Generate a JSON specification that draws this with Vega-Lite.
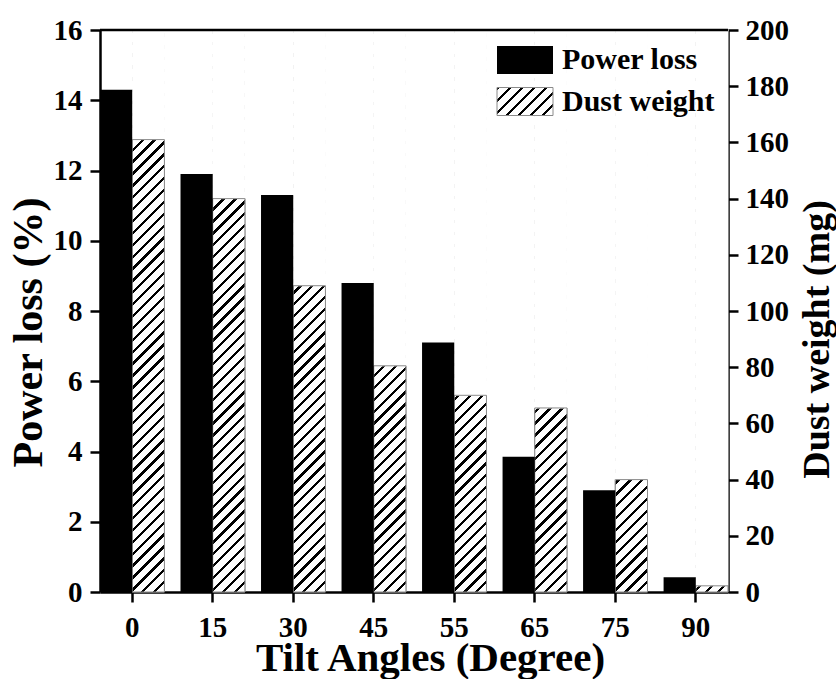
{
  "$schema": "https://vega.github.io/schema/vega-lite/v6.json",
  "width": 628,
  "height": 562,
  "autosize": "none",
  "padding": {"left": 100, "top": 30, "right": 108, "bottom": 87},
  "background": "white",
  "data": {
    "values": [
      {"angle": 0, "series": "Power loss", "value": 14.3},
      {"angle": 0, "series": "Dust weight", "value": 161},
      {"angle": 15, "series": "Power loss", "value": 11.9},
      {"angle": 15, "series": "Dust weight", "value": 140},
      {"angle": 30, "series": "Power loss", "value": 11.3},
      {"angle": 30, "series": "Dust weight", "value": 109},
      {"angle": 45, "series": "Power loss", "value": 8.8},
      {"angle": 45, "series": "Dust weight", "value": 80.5},
      {"angle": 55, "series": "Power loss", "value": 7.1},
      {"angle": 55, "series": "Dust weight", "value": 70},
      {"angle": 65, "series": "Power loss", "value": 3.85},
      {"angle": 65, "series": "Dust weight", "value": 65.5},
      {"angle": 75, "series": "Power loss", "value": 2.9},
      {"angle": 75, "series": "Dust weight", "value": 40},
      {"angle": 90, "series": "Power loss", "value": 0.42},
      {"angle": 90, "series": "Dust weight", "value": 2.2}
    ]
  },
  "layer": [
    {
      "transform": [{"filter": "datum.series === 'Dust weight'"}],
      "layer": [
        {
          "mark": {
            "type": "bar",
            "strokeWidth": 1,
            "fill": {
              "gradient": "linear", "x1": 0, "y1": 0, "x2": 1.2, "y2": 0.6,
              "stops": [
                {"offset":0,"color":"#000"},{"offset":0.04,"color":"#000"},{"offset":0.04,"color":"#fff"},{"offset":0.142857,"color":"#fff"},
                {"offset":0.142857,"color":"#000"},{"offset":0.182857,"color":"#000"},{"offset":0.182857,"color":"#fff"},{"offset":0.285714,"color":"#fff"},
                {"offset":0.285714,"color":"#000"},{"offset":0.325714,"color":"#000"},{"offset":0.325714,"color":"#fff"},{"offset":0.428571,"color":"#fff"},
                {"offset":0.428571,"color":"#000"},{"offset":0.468571,"color":"#000"},{"offset":0.468571,"color":"#fff"},{"offset":0.571429,"color":"#fff"},
                {"offset":0.571429,"color":"#000"},{"offset":0.611429,"color":"#000"},{"offset":0.611429,"color":"#fff"},{"offset":0.714286,"color":"#fff"},
                {"offset":0.714286,"color":"#000"},{"offset":0.754286,"color":"#000"},{"offset":0.754286,"color":"#fff"},{"offset":0.857143,"color":"#fff"},
                {"offset":0.857143,"color":"#000"},{"offset":0.897143,"color":"#000"},{"offset":0.897143,"color":"#fff"},{"offset":1,"color":"#fff"}
              ]
            }
          },
          "encoding": {
            "x": {"field": "angle", "type": "ordinal", "scale": {"paddingInner": 0.2, "paddingOuter": 0}, "title": "Tilt Angles (Degree)"},
            "xOffset": {"field": "series", "type": "nominal", "scale": {"domain": ["Power loss", "Dust weight"]}},
            "y": {"field": "value", "type": "quantitative", "scale": {"domain": [0, 200]}, "axis": {"orient": "right", "values": [0, 20, 40, 60, 80, 100, 120, 140, 160, 180, 200]}, "title": "Dust weight (mg)"},
            "stroke": {
              "field": "series", "type": "nominal",
              "scale": {"domain": ["Dust weight"], "range": ["#8a8a8a"]},
              "legend": {"title": null, "orient": "none", "legendX": 410, "legendY": 56.5}
            }
          }
        },
        {
          "mark": {
            "type": "bar",
            "fill": {
              "gradient": "linear",
              "x1": 0, "y1": 0, "x2": 0.06038, "y2": 1.05384,
              "stops": [
                {"offset":0,"color":"#000"},{"offset":0.0056,"color":"#000"},{"offset":0.0056,"color":"#fff"},{"offset":0.02,"color":"#fff"},
                {"offset":0.02,"color":"#000"},{"offset":0.0256,"color":"#000"},{"offset":0.0256,"color":"#fff"},{"offset":0.04,"color":"#fff"},
                {"offset":0.04,"color":"#000"},{"offset":0.0456,"color":"#000"},{"offset":0.0456,"color":"#fff"},{"offset":0.06,"color":"#fff"},
                {"offset":0.06,"color":"#000"},{"offset":0.0656,"color":"#000"},{"offset":0.0656,"color":"#fff"},{"offset":0.08,"color":"#fff"},
                {"offset":0.08,"color":"#000"},{"offset":0.0856,"color":"#000"},{"offset":0.0856,"color":"#fff"},{"offset":0.1,"color":"#fff"},
                {"offset":0.1,"color":"#000"},{"offset":0.1056,"color":"#000"},{"offset":0.1056,"color":"#fff"},{"offset":0.12,"color":"#fff"},
                {"offset":0.12,"color":"#000"},{"offset":0.1256,"color":"#000"},{"offset":0.1256,"color":"#fff"},{"offset":0.14,"color":"#fff"},
                {"offset":0.14,"color":"#000"},{"offset":0.1456,"color":"#000"},{"offset":0.1456,"color":"#fff"},{"offset":0.16,"color":"#fff"},
                {"offset":0.16,"color":"#000"},{"offset":0.1656,"color":"#000"},{"offset":0.1656,"color":"#fff"},{"offset":0.18,"color":"#fff"},
                {"offset":0.18,"color":"#000"},{"offset":0.1856,"color":"#000"},{"offset":0.1856,"color":"#fff"},{"offset":0.2,"color":"#fff"},
                {"offset":0.2,"color":"#000"},{"offset":0.2056,"color":"#000"},{"offset":0.2056,"color":"#fff"},{"offset":0.22,"color":"#fff"},
                {"offset":0.22,"color":"#000"},{"offset":0.2256,"color":"#000"},{"offset":0.2256,"color":"#fff"},{"offset":0.24,"color":"#fff"},
                {"offset":0.24,"color":"#000"},{"offset":0.2456,"color":"#000"},{"offset":0.2456,"color":"#fff"},{"offset":0.26,"color":"#fff"},
                {"offset":0.26,"color":"#000"},{"offset":0.2656,"color":"#000"},{"offset":0.2656,"color":"#fff"},{"offset":0.28,"color":"#fff"},
                {"offset":0.28,"color":"#000"},{"offset":0.2856,"color":"#000"},{"offset":0.2856,"color":"#fff"},{"offset":0.3,"color":"#fff"},
                {"offset":0.3,"color":"#000"},{"offset":0.3056,"color":"#000"},{"offset":0.3056,"color":"#fff"},{"offset":0.32,"color":"#fff"},
                {"offset":0.32,"color":"#000"},{"offset":0.3256,"color":"#000"},{"offset":0.3256,"color":"#fff"},{"offset":0.34,"color":"#fff"},
                {"offset":0.34,"color":"#000"},{"offset":0.3456,"color":"#000"},{"offset":0.3456,"color":"#fff"},{"offset":0.36,"color":"#fff"},
                {"offset":0.36,"color":"#000"},{"offset":0.3656,"color":"#000"},{"offset":0.3656,"color":"#fff"},{"offset":0.38,"color":"#fff"},
                {"offset":0.38,"color":"#000"},{"offset":0.3856,"color":"#000"},{"offset":0.3856,"color":"#fff"},{"offset":0.4,"color":"#fff"},
                {"offset":0.4,"color":"#000"},{"offset":0.4056,"color":"#000"},{"offset":0.4056,"color":"#fff"},{"offset":0.42,"color":"#fff"},
                {"offset":0.42,"color":"#000"},{"offset":0.4256,"color":"#000"},{"offset":0.4256,"color":"#fff"},{"offset":0.44,"color":"#fff"},
                {"offset":0.44,"color":"#000"},{"offset":0.4456,"color":"#000"},{"offset":0.4456,"color":"#fff"},{"offset":0.46,"color":"#fff"},
                {"offset":0.46,"color":"#000"},{"offset":0.4656,"color":"#000"},{"offset":0.4656,"color":"#fff"},{"offset":0.48,"color":"#fff"},
                {"offset":0.48,"color":"#000"},{"offset":0.4856,"color":"#000"},{"offset":0.4856,"color":"#fff"},{"offset":0.5,"color":"#fff"},
                {"offset":0.5,"color":"#000"},{"offset":0.5056,"color":"#000"},{"offset":0.5056,"color":"#fff"},{"offset":0.52,"color":"#fff"},
                {"offset":0.52,"color":"#000"},{"offset":0.5256,"color":"#000"},{"offset":0.5256,"color":"#fff"},{"offset":0.54,"color":"#fff"},
                {"offset":0.54,"color":"#000"},{"offset":0.5456,"color":"#000"},{"offset":0.5456,"color":"#fff"},{"offset":0.56,"color":"#fff"},
                {"offset":0.56,"color":"#000"},{"offset":0.5656,"color":"#000"},{"offset":0.5656,"color":"#fff"},{"offset":0.58,"color":"#fff"},
                {"offset":0.58,"color":"#000"},{"offset":0.5856,"color":"#000"},{"offset":0.5856,"color":"#fff"},{"offset":0.6,"color":"#fff"},
                {"offset":0.6,"color":"#000"},{"offset":0.6056,"color":"#000"},{"offset":0.6056,"color":"#fff"},{"offset":0.62,"color":"#fff"},
                {"offset":0.62,"color":"#000"},{"offset":0.6256,"color":"#000"},{"offset":0.6256,"color":"#fff"},{"offset":0.64,"color":"#fff"},
                {"offset":0.64,"color":"#000"},{"offset":0.6456,"color":"#000"},{"offset":0.6456,"color":"#fff"},{"offset":0.66,"color":"#fff"},
                {"offset":0.66,"color":"#000"},{"offset":0.6656,"color":"#000"},{"offset":0.6656,"color":"#fff"},{"offset":0.68,"color":"#fff"},
                {"offset":0.68,"color":"#000"},{"offset":0.6856,"color":"#000"},{"offset":0.6856,"color":"#fff"},{"offset":0.7,"color":"#fff"},
                {"offset":0.7,"color":"#000"},{"offset":0.7056,"color":"#000"},{"offset":0.7056,"color":"#fff"},{"offset":0.72,"color":"#fff"},
                {"offset":0.72,"color":"#000"},{"offset":0.7256,"color":"#000"},{"offset":0.7256,"color":"#fff"},{"offset":0.74,"color":"#fff"},
                {"offset":0.74,"color":"#000"},{"offset":0.7456,"color":"#000"},{"offset":0.7456,"color":"#fff"},{"offset":0.76,"color":"#fff"},
                {"offset":0.76,"color":"#000"},{"offset":0.7656,"color":"#000"},{"offset":0.7656,"color":"#fff"},{"offset":0.78,"color":"#fff"},
                {"offset":0.78,"color":"#000"},{"offset":0.7856,"color":"#000"},{"offset":0.7856,"color":"#fff"},{"offset":0.8,"color":"#fff"},
                {"offset":0.8,"color":"#000"},{"offset":0.8056,"color":"#000"},{"offset":0.8056,"color":"#fff"},{"offset":0.82,"color":"#fff"},
                {"offset":0.82,"color":"#000"},{"offset":0.8256,"color":"#000"},{"offset":0.8256,"color":"#fff"},{"offset":0.84,"color":"#fff"},
                {"offset":0.84,"color":"#000"},{"offset":0.8456,"color":"#000"},{"offset":0.8456,"color":"#fff"},{"offset":0.86,"color":"#fff"},
                {"offset":0.86,"color":"#000"},{"offset":0.8656,"color":"#000"},{"offset":0.8656,"color":"#fff"},{"offset":0.88,"color":"#fff"},
                {"offset":0.88,"color":"#000"},{"offset":0.8856,"color":"#000"},{"offset":0.8856,"color":"#fff"},{"offset":0.9,"color":"#fff"},
                {"offset":0.9,"color":"#000"},{"offset":0.9056,"color":"#000"},{"offset":0.9056,"color":"#fff"},{"offset":0.92,"color":"#fff"},
                {"offset":0.92,"color":"#000"},{"offset":0.9256,"color":"#000"},{"offset":0.9256,"color":"#fff"},{"offset":0.94,"color":"#fff"},
                {"offset":0.94,"color":"#000"},{"offset":0.9456,"color":"#000"},{"offset":0.9456,"color":"#fff"},{"offset":0.96,"color":"#fff"},
                {"offset":0.96,"color":"#000"},{"offset":0.9656,"color":"#000"},{"offset":0.9656,"color":"#fff"},{"offset":0.98,"color":"#fff"},
                {"offset":0.98,"color":"#000"},{"offset":0.9856,"color":"#000"},{"offset":0.9856,"color":"#fff"},{"offset":1,"color":"#fff"}
              ]
            }
          },
          "encoding": {
            "x": {"field": "angle", "type": "ordinal", "scale": {"paddingInner": 0.2, "paddingOuter": 0}, "title": "Tilt Angles (Degree)"},
            "xOffset": {"field": "series", "type": "nominal", "scale": {"domain": ["Power loss", "Dust weight"]}},
            "y": {"datum": 200, "type": "quantitative", "scale": {"domain": [0, 200]}, "axis": {"orient": "right", "values": [0, 20, 40, 60, 80, 100, 120, 140, 160, 180, 200]}, "title": "Dust weight (mg)"},
            "y2": {"datum": 0}
          }
        },
        {
          "mark": {"type": "bar", "fill": "#fff", "stroke": "#fff", "strokeWidth": 1},
          "encoding": {
            "x": {"field": "angle", "type": "ordinal", "scale": {"paddingInner": 0.2, "paddingOuter": 0}, "title": "Tilt Angles (Degree)"},
            "xOffset": {"field": "series", "type": "nominal", "scale": {"domain": ["Power loss", "Dust weight"]}},
            "y": {"field": "value", "type": "quantitative", "scale": {"domain": [0, 200]}, "axis": {"orient": "right", "values": [0, 20, 40, 60, 80, 100, 120, 140, 160, 180, 200]}, "title": "Dust weight (mg)"},
            "y2": {"datum": 200}
          }
        },
        {
          "mark": {"type": "bar", "fill": "transparent", "stroke": "#8a8a8a", "strokeWidth": 1},
          "encoding": {
            "x": {"field": "angle", "type": "ordinal", "scale": {"paddingInner": 0.2, "paddingOuter": 0}, "title": "Tilt Angles (Degree)"},
            "xOffset": {"field": "series", "type": "nominal", "scale": {"domain": ["Power loss", "Dust weight"]}},
            "y": {"field": "value", "type": "quantitative", "scale": {"domain": [0, 200]}, "axis": {"orient": "right", "values": [0, 20, 40, 60, 80, 100, 120, 140, 160, 180, 200]}, "title": "Dust weight (mg)"}
          }
        }
      ]
    },
    {
      "transform": [{"filter": "datum.series === 'Power loss'"}],
      "layer": [
        {
          "mark": {"type": "bar"},
          "encoding": {
            "x": {"field": "angle", "type": "ordinal", "scale": {"paddingInner": 0.2, "paddingOuter": 0}, "title": "Tilt Angles (Degree)"},
            "xOffset": {"field": "series", "type": "nominal", "scale": {"domain": ["Power loss", "Dust weight"]}},
            "y": {"field": "value", "type": "quantitative", "scale": {"domain": [0, 16]}, "axis": {"orient": "left", "values": [0, 2, 4, 6, 8, 10, 12, 14, 16]}, "title": "Power loss (%)"},
            "fill": {
              "field": "series", "type": "nominal",
              "scale": {"domain": ["Power loss"], "range": ["#000"]},
              "legend": {"title": null, "orient": "none", "legendX": 410, "legendY": 15}
            }
          }
        },
        {
          "transform": [{"filter": "datum.angle === 0"}],
          "mark": {"type": "rule", "color": "#000", "strokeWidth": 2.5},
          "encoding": {
            "y": {"datum": 16, "type": "quantitative", "scale": {"domain": [0, 16]}, "axis": {"orient": "left", "values": [0, 2, 4, 6, 8, 10, 12, 14, 16]}, "title": "Power loss (%)"}
          }
        }
      ]
    }
  ],
  "resolve": {"scale": {"y": "independent"}},
  "config": {
    "view": {"stroke": null},
    "font": "Liberation Serif",
    "legend": {
      "padding": 0,
      "symbolType": "M-2,-1H2V1H-2Z",
      "symbolSize": 784,
      "symbolStrokeWidth": 1,
      "symbolOpacity": 1,
      "labelOffset": 22,
      "labelFont": "Liberation Serif",
      "labelFontSize": 30,
      "labelFontWeight": "bold",
      "labelColor": "#000"
    },
    "axis": {
      "labelFont": "Liberation Serif",
      "labelFontWeight": "bold",
      "labelFontSize": 29,
      "labelColor": "#000",
      "titleFont": "Liberation Serif",
      "titleFontWeight": "bold",
      "titleFontSize": 40,
      "titleColor": "#000",
      "domainColor": "#000",
      "domainWidth": 2.5,
      "tickColor": "#000",
      "tickWidth": 2.5,
      "tickSize": 10,
      "grid": false,
      "zindex": 1
    },
    "axisX": {"labelAngle": 0, "labelPadding": 11, "titleX": 330, "titleY": 78, "titleBaseline": "alphabetic", "titleAlign": "center", "titleFontSize": 41},
    "axisLeft": {"labelPadding": 8, "titleAngle": 270, "titleX": -59, "titleY": 302, "titleBaseline": "alphabetic", "titleAlign": "center", "titleFontSize": 42},
    "axisRight": {"labelPadding": 7, "titleAngle": 270, "titleX": 100, "titleY": 309, "titleBaseline": "alphabetic", "titleAlign": "center", "titleFontSize": 38}
  }
}
